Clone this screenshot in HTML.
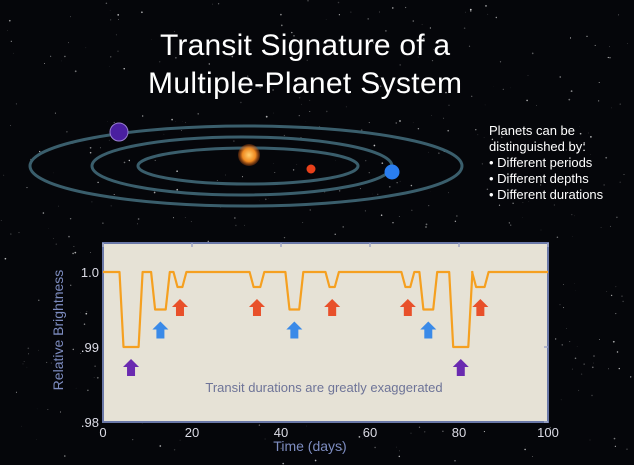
<!DOCTYPE html>
<html><head><meta charset="utf-8"><style>
html,body{margin:0;padding:0;background:#000;}
svg{display:block;font-family:"Liberation Sans",sans-serif;}
</style></head><body>
<svg id="root" width="634" height="465" viewBox="0 0 634 465">
<rect width="634" height="465" fill="#05060a"/>
<g id="stars"></g>
<text x="305" y="55" text-anchor="middle" fill="#fff" font-size="30" textLength="290">Transit Signature of a</text>
<text x="305" y="93" text-anchor="middle" fill="#fff" font-size="30" textLength="314">Multiple-Planet System</text>
<g fill="none" stroke="#3a5e6c" stroke-width="3">
<ellipse cx="246" cy="166" rx="216" ry="40"/>
<ellipse cx="242" cy="166" rx="150" ry="29"/>
<ellipse cx="248" cy="166" rx="110" ry="18"/>
</g>
<defs><radialGradient id="sun"><stop offset="0" stop-color="#ffd070"/><stop offset="0.6" stop-color="#f08a20"/><stop offset="1" stop-color="#c05010" stop-opacity="0.3"/></radialGradient></defs>
<circle cx="249" cy="155" r="11" fill="url(#sun)"/>
<circle cx="119" cy="132" r="9" fill="#4a1fa0" stroke="#9a80d0" stroke-width="1"/>
<circle cx="311" cy="169" r="4.5" fill="#e8401a"/>
<circle cx="392" cy="172" r="7.5" fill="#2a7ef0"/>
<g fill="#fff" font-size="13">
<text x="489" y="135">Planets can be</text>
<text x="489" y="151">distinguished by:</text>
<text x="489" y="167">• Different periods</text>
<text x="489" y="183">• Different depths</text>
<text x="489" y="199">• Different durations</text>
</g>
<g id="chart"></g>
</svg>
<script>
const xTicks=[0,20,40,60,80,100];
const yTicks=[0.98,0.99,1.0];
const yTickLabels=[".98",".99","1.0"];
const transitCenters=[6.3,12.9,17.3,34.6,43.0,51.5,68.5,73.1,80.4,84.8];
const transitDepths=[0.010,0.005,0.002,0.002,0.005,0.002,0.002,0.005,0.010,0.002];
const transitHalfWidths=[1.7,1.2,0.55,0.75,1.1,0.6,0.55,1.1,1.7,0.95];
const transitPlanet=["purple","blue","red","red","blue","red","red","blue","purple","red"];
const NS="http://www.w3.org/2000/svg";
const X0=103,X1=548,YT=243,YB=422;
const sx=d=>X0+(d/100)*(X1-X0);
const sy=v=>422-(v-0.98)/0.01*75;
function mk(tag,attrs,parent){const e=document.createElementNS(NS,tag);for(const k in attrs)e.setAttribute(k,attrs[k]);parent.appendChild(e);return e;}
// stars
const st=document.getElementById('stars');
let s=12345;function rnd(){s=(s*1103515245+12345)%2147483648;return s/2147483648;}
for(let i=0;i<500;i++){const c=mk('circle',{cx:(rnd()*634).toFixed(1),cy:(rnd()*465).toFixed(1),r:(rnd()*0.7+0.2).toFixed(2),fill:'#fff','fill-opacity':(rnd()*0.6+0.2).toFixed(2)},st);

}
const ch=document.getElementById('chart');
const bg=mk('rect',{x:X0,y:YT,width:X1-X0,height:YB-YT,fill:'#e6e2d6',stroke:'#6a78a8','stroke-width':2},ch);


xTicks.forEach(t=>{
 const tk=mk('line',{x1:sx(t),x2:sx(t),y1:YT,y2:YT+4,stroke:'#a0a8c8','stroke-width':1.5},ch);
 
 
 const l=mk('text',{x:sx(t),y:YB+15,'text-anchor':'middle',fill:'#dcdce6','font-size':13},ch);l.textContent=t;
 
 
});
yTicks.forEach((t,i)=>{
 const tk=mk('line',{x1:X1-4,x2:X1,y1:sy(t),y2:sy(t),stroke:'#a0a8c8','stroke-width':1.5},ch);
 
 
 const l=mk('text',{x:X0-4,y:sy(t)+5,'text-anchor':'end',fill:'#dcdce6','font-size':13},ch);l.textContent=yTickLabels[i];
 
 
});
const xt=mk('text',{x:310,y:451,'text-anchor':'middle',fill:'#7d8cc0','font-size':14},ch);xt.textContent='Time (days)';


const yt=mk('text',{x:0,y:0,'text-anchor':'middle',fill:'#7d8cc0','font-size':14,transform:'translate(63,330) rotate(-90)'},ch);yt.textContent='Relative Brightness';


const an=mk('text',{x:324,y:392,'text-anchor':'middle',fill:'#6e7498','font-size':13},ch);an.textContent='Transit durations are greatly exaggerated';


// light curve
const ing=0.9;let pts=[[0,1.0]];
transitCenters.forEach((c,i)=>{const h=transitHalfWidths[i],d=transitDepths[i];
 pts.push([c-h-ing,1.0],[c-h,1.0-d],[c+h,1.0-d],[c+h+ing,1.0]);});
pts.push([100,1.0]);
const lc=mk('polyline',{points:pts.map(p=>sx(p[0]).toFixed(1)+','+sy(p[1]).toFixed(1)).join(' '),fill:'none',stroke:'#f5a020','stroke-width':2.2,'stroke-linejoin':'round'},ch);


const cols={purple:'#6a2ab0',blue:'#3a8ae8',red:'#e8502a'};
transitCenters.forEach((c,i)=>{const x=sx(c),top=sy(1.0-transitDepths[i])+12;
 const a=mk('path',{d:`M${x},${top} l8,8 h-4 v9 h-8 v-9 h-4 z`,fill:cols[transitPlanet[i]]},ch);
 
 
});
</script>
</body></html>
